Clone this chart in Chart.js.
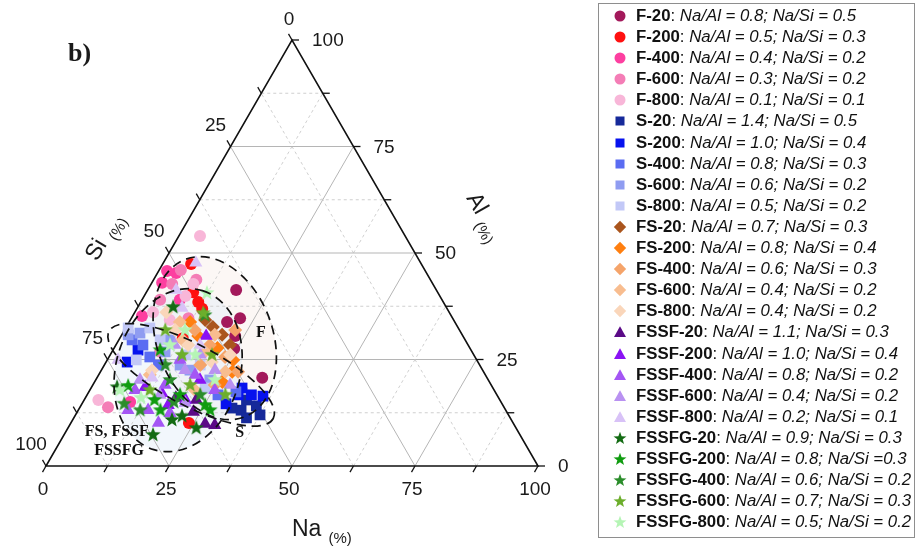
<!DOCTYPE html>
<html>
<head>
<meta charset="utf-8">
<script src="https://cdn.jsdelivr.net/npm/chart.js@4.4.1/dist/chart.umd.min.js"></script>
<style>
  html, body { margin: 0; padding: 0; background: #fff; }
  #wrap { position: relative; width: 917px; height: 550px; overflow: hidden; }
  #plot { position: absolute; left: 0; top: 0; }
  #legend {
    position: absolute; left: 598px; top: 3px; width: 317px; height: 535px;
    box-sizing: border-box; border: 1px solid #8e8e8e;
    font-family: "Liberation Sans", Arial, sans-serif; font-size: 16.8px; color: #111;
    padding-top: 1px;
  }
  .row { position: relative; height: 21.1px; line-height: 21.1px; white-space: nowrap; padding-left: 37px; }
  .row svg { position: absolute; left: 13px; top: 3px; }
  .row b { font-weight: bold; }
  .row i { font-style: italic; }
</style>
</head>
<body>
<div id="wrap">
  <canvas id="plot" width="917" height="550"></canvas>
  <div id="legend"></div>
</div>
<script>
// ---- series (each point is [Na %, Al %]; Si % = 100 - Na - Al) ----
const seriesNames = ['F-20','F-200','F-400','F-600','F-800',
  'S-20','S-200','S-400','S-600','S-800',
  'FS-20','FS-200','FS-400','FS-600','FS-800',
  'FSSF-20','FSSF-200','FSSF-400','FSSF-600','FSSF-800',
  'FSSFG-20','FSSFG-200','FSSFG-400','FSSFG-600','FSSFG-800'];
const naAlRatios = ['0.8','0.5','0.4','0.3','0.1','1.4','1.0','0.8','0.6','0.5',
  '0.7','0.8','0.6','0.4','0.4','1.1','1.0','0.8','0.4','0.2','0.9','0.8','0.6','0.7','0.5'];
const naSiRatios = ['= 0.5','= 0.3','= 0.2','= 0.2','= 0.1','= 0.5','= 0.4','= 0.3','= 0.2','= 0.2',
  '= 0.3','= 0.4','= 0.3','= 0.2','= 0.2','= 0.3','= 0.4','= 0.2','= 0.2','= 0.1',
  '= 0.3','=0.3','= 0.2','= 0.3','= 0.2'];

const F20  = [[18.0,41.3],[22.1,34.7],[19.9,33.8],[23.2,30.5],[24.5,27.5],[33.6,20.7]];
const F200 = [[5.8,47.4],[9.5,40.8],[11.7,38.5],[13.3,36.9],[12.8,30.0],[24.0,10.1]];
const F400 = [[1.7,45.8],[2.1,43.0],[3.8,45.3],[1.9,35.2],[7.7,39.0],[9.6,15.0]];
const F600 = [[4.4,46.0],[4.3,42.7],[8.7,43.7],[11.6,34.7],[9.8,26.8],[5.7,13.8],[3.7,39.0]];
const F800 = [[4.3,54.0],[8.6,42.7],[8.4,39.9],[3.7,36.1],[2.9,15.5],[8.0,34.3]];
const S20  = [[31.0,13.6],[33.1,13.1],[35.7,14.1],[37.5,12.0],[33.0,15.5],[35.1,11.3]];
const S200 = [[29.3,14.6],[30.7,18.3],[33.4,16.7],[35.9,16.4],[5.1,27.2],[4.3,24.4],[30.7,16.7]];
const S400 = [[5.5,28.4],[8.3,25.6],[2.7,29.6],[29.9,17.4],[26.6,16.7],[11.0,23.7]];
const S600 = [[1.3,30.8],[3.5,31.2],[10.4,29.6],[18.0,22.5],[23.2,20.2],[10.8,26.8],[15.4,23.7]];
const S800 = [[0.5,32.4],[4.9,32.4],[8.4,29.6],[5.9,24.9],[15.3,26.1],[23.2,18.3],[19.5,23.7]];
const FS20  = [[17.6,32.6],[20.4,30.8],[15.2,34.3],[23.2,28.4]];
const FS200 = [[12.4,33.8],[15.7,30.5],[21.0,27.7],[26.8,22.1],[26.0,19.7],[25.6,24.9]];
const FS400 = [[19.1,28.4],[23.6,25.6],[28.0,22.1],[24.8,19.0],[19.5,23.7],[22.5,31.9],[14.3,31.9]];
const FS600 = [[10.3,33.8],[18.9,26.8],[13.0,29.6],[25.4,22.1],[10.4,21.4],[21.4,17.8],[18.9,30.8]];
const FS800 = [[6.4,36.1],[10.3,31.9],[10.3,22.5],[14.7,28.4],[21.5,24.4],[24.4,26.1]];
const FSSF20  = [[23.6,12.7],[27.4,9.9],[29.5,9.6],[22.8,15.5],[18.4,16.0]];
const FSSF200 = [[17.3,30.5],[10.9,18.5],[20.6,15.5],[17.7,14.3],[21.2,20.2],[15.0,17.1]];
const FSSF400 = [[14.2,13.1],[17.8,10.1],[9.2,17.8],[14.7,19.0],[14.8,24.9],[19.6,21.4],[10.1,13.1],[19.0,12.4],[25.4,17.8]];
const FSSF600 = [[14.8,16.7],[17.0,22.5],[23.1,22.5],[9.0,20.2],[27.9,19.0],[12.0,28.4],[20.9,14.8],[18.3,26.1]];
const FSSF800 = [[6.6,47.7],[5.8,41.3],[9.1,37.1],[2.2,24.9],[11.2,20.7],[17.1,28.4]];
const FSSFG20  = [[5.2,18.5],[18.1,7.3],[20.2,10.8],[21.8,11.7],[26.1,8.9],[7.2,37.3]];
const FSSFG200 = [[7.3,18.8],[14.3,15.5],[16.7,13.1],[18.9,16.7],[26.8,13.1],[9.6,27.2],[25.2,14.3]];
const FSSFG400 = [[8.6,14.6],[18.5,15.0],[15.1,20.2],[23.0,16.7],[12.4,23.7],[14.6,35.4],[12.6,13.1]];
const FSSFG600 = [[14.0,35.9],[14.6,26.1],[20.7,26.1],[19.8,19.0],[28.1,16.7],[8.3,31.9],[12.2,17.8]];
const FSSFG800 = [[11.3,16.0],[6.1,17.8],[12.4,40.6],[11.0,28.4],[17.3,26.1],[24.2,20.2],[12.3,31.9]];

const seriesData = [F20,F200,F400,F600,F800,S20,S200,S400,S600,S800,
  FS20,FS200,FS400,FS600,FS800,FSSF20,FSSF200,FSSF400,FSSF600,FSSF800,
  FSSFG20,FSSFG200,FSSFG400,FSSFG600,FSSFG800];

// axis tick values (%), major every 25, minor every 12.5
const majorTicks = [0, 25, 50, 75, 100];
const minorStep = 12.5;

// ---- styling ----
const colors = ['#a3195b','#ff1010','#fd3fa0','#f47db6','#f8b6d8',
  '#16299a','#0612ee','#5a6cf2','#8f9cf1','#c2c8f7',
  '#aa551d','#ff7f10','#f5a46a','#f8bd8f','#fad6ba',
  '#5b0a87','#8a12f4','#a456f4','#b991f1','#d8c2f7',
  '#136b13','#109c10','#2b8d2b','#6cae2c','#b5f5b5'];
const groupShapes = ['circle','rect','rectRot','triangle','star'];
const groupRadius = [6, 7.6, 7, 7.6, 8];

const H = Math.sqrt(3) / 2;
const toXY = ([na, al]) => ({ x: na + al / 2, y: al * H });

function starCanvas(color, r) {
  const s = Math.ceil(r * 2 + 2);
  const c = document.createElement('canvas');
  c.width = s; c.height = s;
  const g = c.getContext('2d');
  g.beginPath();
  for (let i = 0; i < 10; i++) {
    const rr = i % 2 ? r * 0.42 : r;
    const a = -Math.PI / 2 + i * Math.PI / 5;
    const px = s / 2 + rr * Math.cos(a), py = s / 2 + rr * Math.sin(a);
    if (i) g.lineTo(px, py); else g.moveTo(px, py);
  }
  g.closePath();
  g.fillStyle = color;
  g.fill();
  return c;
}

// dashed region outlines: centre [Na, Al], semi-axes in % units, tilt in degrees
const regionEllipses = [
  { center: [19.3, 30.0], a: 17.1, b: 11.8, angle: 70,  fill: 'rgba(245,229,223,0.32)' },
  { center: [15.6, 22.5], a: 16.9, b: 12.6, angle: -73, fill: 'rgba(222,234,247,0.40)' },
  { center: [18.8, 21.4], a: 18.9, b: 6.2,  angle: 28,  fill: null }
];
const regionLabels = [
  { text: 'F', at: [28.1, 31.2] },
  { text: 'S', at: [35.5, 7.7] },
  { text: 'FS, FSSF', at: [10.4, 8.0] },
  { text: 'FSSFG', at: [13.1, 3.5] }
];

function pixelOf(chart) {
  const { x, y } = chart.scales;
  return (na, al) => [x.getPixelForValue(na + al / 2), y.getPixelForValue(al * H)];
}
function ellipsePath(chart, e) {
  const P = pixelOf(chart);
  const { x } = chart.scales;
  const ppu = x.getPixelForValue(1) - x.getPixelForValue(0);
  const [cx, cy] = P(e.center[0], e.center[1]);
  const ctx = chart.ctx;
  ctx.beginPath();
  ctx.ellipse(cx, cy, e.a * ppu, e.b * ppu, e.angle * Math.PI / 180, 0, Math.PI * 2);
}

const ternaryFrame = {
  id: 'ternaryFrame',
  beforeDatasetsDraw(chart) {
    const ctx = chart.ctx;
    const P = pixelOf(chart);
    const seg = (p, q) => { ctx.beginPath(); ctx.moveTo(p[0], p[1]); ctx.lineTo(q[0], q[1]); ctx.stroke(); };
    ctx.save();
    regionEllipses.forEach(e => {
      if (!e.fill) return;
      ellipsePath(chart, e);
      ctx.fillStyle = e.fill;
      ctx.fill();
    });
    // grid
    for (let v = minorStep; v < 100; v += minorStep) {
      const major = Math.abs(v % 25) < 1e-6;
      ctx.strokeStyle = major ? '#b5b5b5' : '#d0d0d0';
      ctx.setLineDash(major ? [] : [3, 3]);
      ctx.lineWidth = 1;
      seg(P(0, v), P(100 - v, v));          // constant Al
      seg(P(v, 0), P(v, 100 - v));          // constant Na
      seg(P(100 - v, 0), P(0, 100 - v));    // constant Si
    }
    ctx.setLineDash([]);
    // frame
    ctx.strokeStyle = '#111';
    ctx.lineWidth = 1.6;
    const a = P(0, 0), b = P(100, 0), c = P(0, 100);
    ctx.beginPath();
    ctx.moveTo(a[0], a[1]); ctx.lineTo(b[0], b[1]); ctx.lineTo(c[0], c[1]); ctx.closePath();
    ctx.stroke();
    // ticks
    const L = 7;
    ctx.lineWidth = 1.3;
    for (let v = 0; v <= 100; v += minorStep) {
      let p = P(v, 0);          seg(p, [p[0] - 0.5 * L, p[1] + H * L]);
      p = P(0, 100 - v);        seg(p, [p[0] - 0.5 * L, p[1] - H * L]);
      p = P(100 - v, v);        seg(p, [p[0] + L, p[1]]);
    }
    // tick labels
    ctx.fillStyle = '#1a1a1a';
    ctx.font = '19px "Liberation Sans", Arial, sans-serif';
    ctx.textBaseline = 'middle';
    majorTicks.forEach(v => {
      let p = P(v, 0);
      ctx.textAlign = 'center';
      ctx.fillText(String(v), p[0] - 3, p[1] + 24);
      p = P(0, 100 - v);
      if (v === 0) ctx.fillText(String(v), p[0] - 3, p[1] - 20);
      else ctx.fillText(String(v), p[0] - 15, p[1] - 21);
      p = P(100 - v, v);
      ctx.textAlign = 'left';
      ctx.fillText(String(v), p[0] + 20, p[1] + 1);
    });
    // axis titles
    ctx.textBaseline = 'alphabetic';
    const title = (x, y, rot, main, sub) => {
      ctx.save();
      ctx.translate(x, y);
      ctx.rotate(rot);
      ctx.textAlign = 'left';
      ctx.font = '23px "Liberation Sans", Arial, sans-serif';
      ctx.fillText(main, 0, 0);
      const w = ctx.measureText(main).width;
      ctx.font = '15px "Liberation Sans", Arial, sans-serif';
      ctx.fillText(sub, w + 7, 7);
      ctx.restore();
    };
    title(292, 536, 0, 'Na', '(%)');
    title(97, 262, -Math.PI / 3, 'Si', '(%)');
    title(466, 198, Math.PI / 3, 'Al', '(%)');
    // panel tag
    ctx.font = 'bold 26px "Liberation Serif", "Times New Roman", serif';
    ctx.textAlign = 'left';
    ctx.fillText('b)', 68, 61);
    ctx.restore();
  },
  afterDatasetsDraw(chart) {
    const ctx = chart.ctx;
    const P = pixelOf(chart);
    ctx.save();
    ctx.strokeStyle = '#111';
    ctx.lineWidth = 1.7;
    ctx.setLineDash([9, 6]);
    regionEllipses.forEach(e => { ellipsePath(chart, e); ctx.stroke(); });
    ctx.setLineDash([]);
    ctx.fillStyle = '#111';
    ctx.font = 'bold 16px "Liberation Serif", "Times New Roman", serif';
    ctx.textAlign = 'center';
    ctx.textBaseline = 'middle';
    regionLabels.forEach(l => {
      const p = P(l.at[0], l.at[1]);
      ctx.fillText(l.text, p[0], p[1]);
    });
    ctx.restore();
  }
};

const datasets = seriesNames.map((name, i) => {
  const g = Math.floor(i / 5);
  const shape = groupShapes[g];
  return {
    label: name,
    data: seriesData[i].map(toXY),
    pointStyle: shape === 'star' ? starCanvas(colors[i], groupRadius[g]) : shape,
    pointRadius: groupRadius[g],
    backgroundColor: colors[i],
    borderColor: colors[i],
    borderWidth: 0,
    order: seriesNames.length - i,
    clip: false
  };
});

new Chart(document.getElementById('plot'), {
  type: 'scatter',
  data: { datasets },
  options: {
    responsive: false,
    animation: false,
    layout: { padding: { left: 46, right: 379, top: 40, bottom: 84 } },
    scales: {
      x: { type: 'linear', min: 0, max: 100, display: false },
      y: { type: 'linear', min: 0, max: 100 * H, display: false }
    },
    plugins: { legend: { display: false }, tooltip: { enabled: false } },
    events: []
  },
  plugins: [ternaryFrame]
});

// ---- legend ----
function markerSvg(shape, color) {
  let body = '';
  if (shape === 'circle') body = `<circle cx="8" cy="8" r="5.5" fill="${color}"/>`;
  else if (shape === 'rect') body = `<rect x="3.5" y="3.5" width="9" height="9" fill="${color}"/>`;
  else if (shape === 'rectRot') body = `<polygon points="8,1.8 14.2,8 8,14.2 1.8,8" fill="${color}"/>`;
  else if (shape === 'triangle') body = `<polygon points="8,2.2 14,13 2,13" fill="${color}"/>`;
  else {
    const pts = [];
    for (let k = 0; k < 10; k++) {
      const rr = k % 2 ? 2.8 : 6.8;
      const a = -Math.PI / 2 + k * Math.PI / 5;
      pts.push((8 + rr * Math.cos(a)).toFixed(2) + ',' + (8.5 + rr * Math.sin(a)).toFixed(2));
    }
    body = `<polygon points="${pts.join(' ')}" fill="${color}"/>`;
  }
  return `<svg width="16" height="16" viewBox="0 0 16 16">${body}</svg>`;
}
const legendEl = document.getElementById('legend');
seriesNames.forEach((name, i) => {
  const row = document.createElement('div');
  row.className = 'row';
  row.innerHTML = markerSvg(groupShapes[Math.floor(i / 5)], colors[i]) +
    `<b>${name}</b>: <i>Na/Al = ${naAlRatios[i]}; Na/Si ${naSiRatios[i]}</i>`;
  legendEl.appendChild(row);
});
</script>
</body>
</html>
